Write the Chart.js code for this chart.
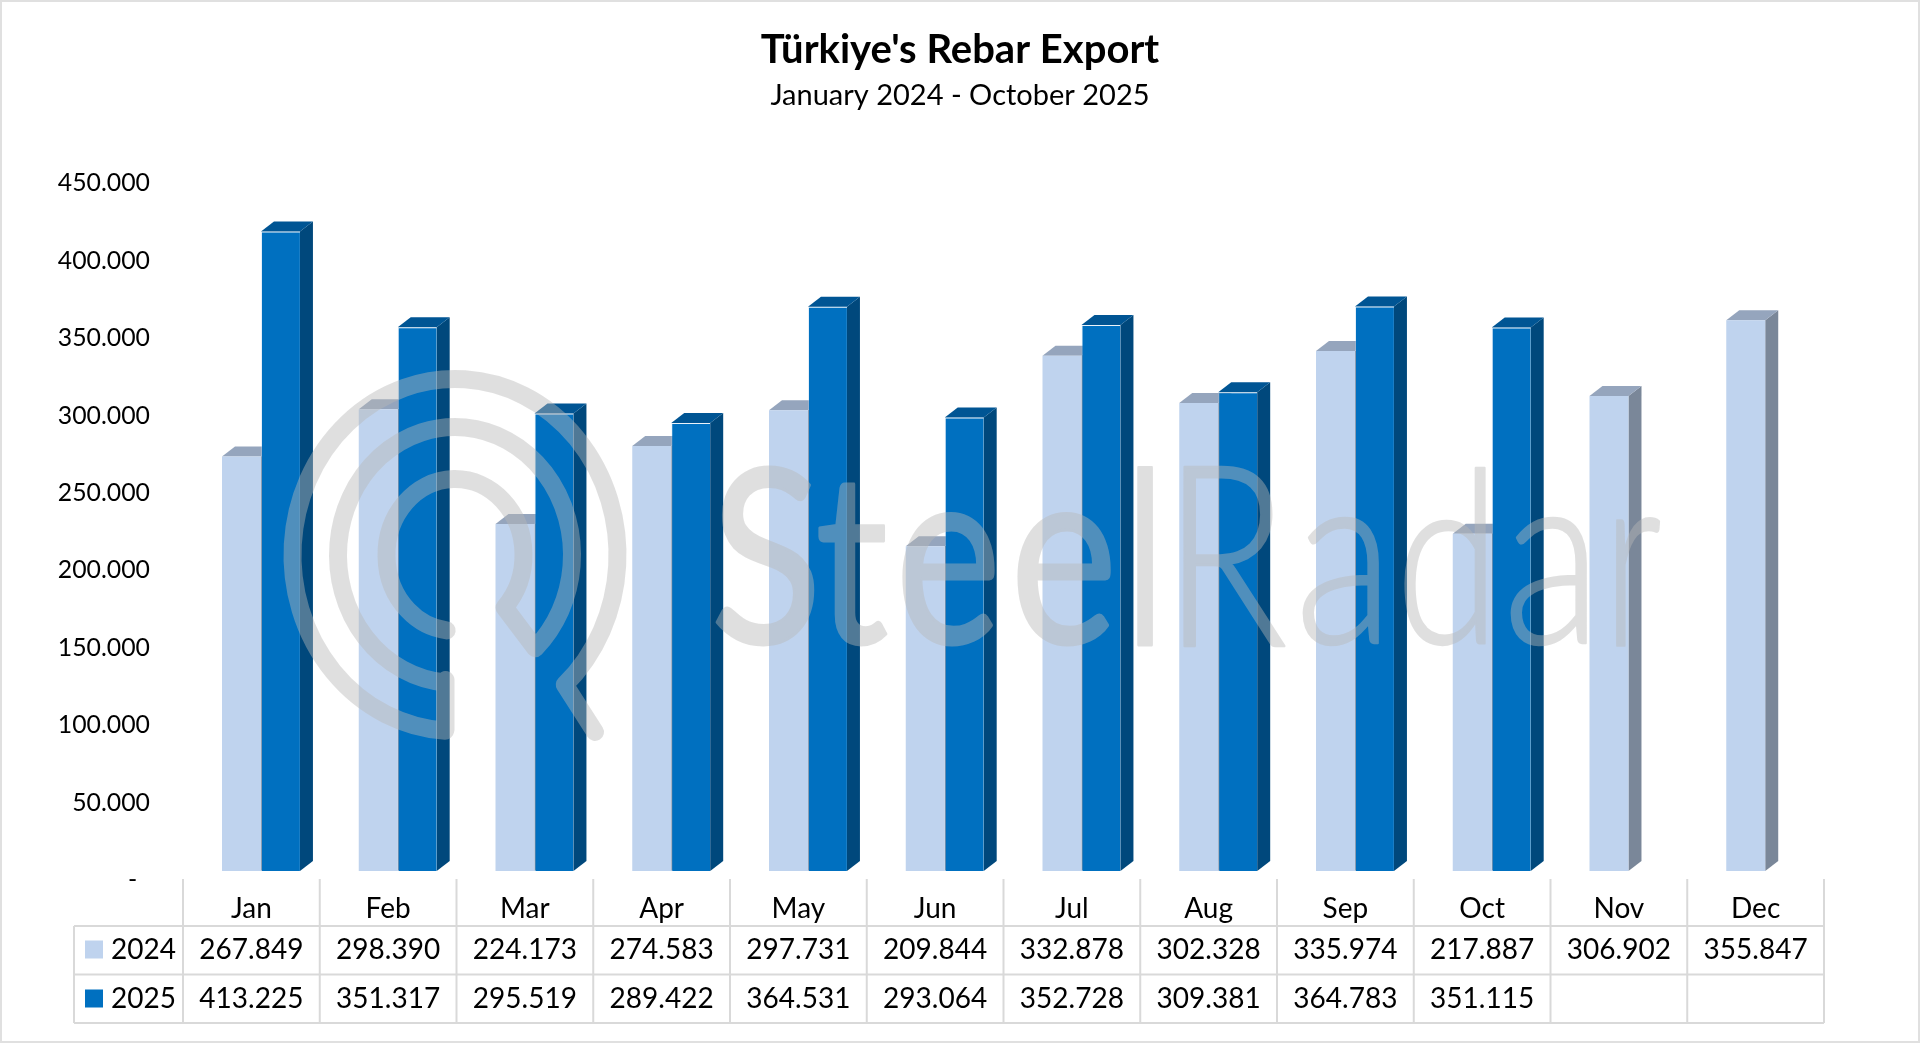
<!DOCTYPE html>
<html>
<head>
<meta charset="utf-8">
<title>Türkiye's Rebar Export</title>
<script src="https://cdn.jsdelivr.net/npm/chart.js@4"></script>
<style>
  html, body { margin: 0; padding: 0; background: #fff; overflow: hidden; }
  canvas { display: block; }
</style>
</head>
<body>
<canvas id="graph" width="1920" height="1043"></canvas>
<script>
const months = ['Jan', 'Feb', 'Mar', 'Apr', 'May', 'Jun', 'Jul', 'Aug', 'Sep', 'Oct', 'Nov', 'Dec'];
const values2024 = [267849, 298390, 224173, 274583, 297731, 209844, 332878, 302328, 335974, 217887, 306902, 355847];
const values2025 = [413225, 351317, 295519, 289422, 364531, 293064, 352728, 309381, 364783, 351115, null, null];
const seriesNames = ['2024', '2025'];

const FONT = 'Lato, Carlito, sans-serif';
const DEPTH_X = 13;
const DEPTH_Y = 10;
const TABLE_SHIFT = 9.6; // the data table sits a bit left of the bars, like in excel 3d charts

const faceColors = [
  { top: '#95A5BD', side: '#7A8799' },
  { top: '#005594', side: '#00487C' }
];
const swatchColors = ['#BFD3EE', '#0070C0'];

function formatNumber(v) {
  return v.toLocaleString('de-DE');
}

function polygon(c, pts, color) {
  c.fillStyle = color;
  c.beginPath();
  pts.forEach((p, i) => i ? c.lineTo(p[0], p[1]) : c.moveTo(p[0], p[1]));
  c.closePath();
  c.fill();
}

// white page and thin grey frame
const framePlugin = {
  id: 'frame',
  beforeDraw(chart) {
    const c = chart.ctx;
    c.save();
    c.fillStyle = '#fff';
    c.fillRect(0, 0, chart.width, chart.height);
    c.strokeStyle = '#E0E0E0';
    c.lineWidth = 2;
    c.strokeRect(1, 1, chart.width - 2, chart.height - 2);
    c.restore();
  }
};

// top and side faces of the bars, under the flat fronts
const depthPlugin = {
  id: 'depth',
  beforeDatasetsDraw(chart) {
    const c = chart.ctx;
    c.save();
    chart.data.datasets.forEach((ds, i) => {
      chart.getDatasetMeta(i).data.forEach((bar, idx) => {
        if (ds.data[idx] === null) return;
        const { x, y, base, width } = bar.getProps(['x', 'y', 'base', 'width'], true);
        const l = x - width / 2;
        const r = x + width / 2;
        polygon(c, [[r, y], [r + DEPTH_X, y - DEPTH_Y], [r + DEPTH_X, base - DEPTH_Y], [r, base]], faceColors[i].side);
        polygon(c, [[l, y], [l + DEPTH_X, y - DEPTH_Y], [r + DEPTH_X, y - DEPTH_Y], [r, y]], faceColors[i].top);
      });
    });
    c.restore();
  }
};

// SteelRadar mark over the bars
const watermarkPlugin = {
  id: 'watermark',
  afterDatasetsDraw(chart) {
    const c = chart.ctx;
    const cx = 455, cy = 555;
    const off = document.createElement('canvas');
    off.width = chart.width;
    off.height = chart.height;
    const o = off.getContext('2d');
    o.strokeStyle = '#B8B8B8';
    o.fillStyle = '#B8B8B8';
    o.lineWidth = 18;
    o.lineCap = 'round';
    o.lineJoin = 'round';
    const rad = Math.PI / 180;
    o.beginPath();
    o.ellipse(cx, cy, 162.5, 176, 0, 93.5 * rad, 407.5 * rad);
    o.lineTo(595, 732);
    o.moveTo(445.5, 680);
    o.lineTo(445.5, 730);
    o.moveTo(445.5, 680);
    o.ellipse(cx, cy, 117, 128, 0, 95 * rad, 406.7 * rad);
    o.lineTo(505, 608);
    o.ellipse(cx, cy, 68.5, 76, 0, 43.7 * rad, -263 * rad, true);
    o.stroke();

    // letters: char, left, right, top, bottom, heavy
    const letters = [
      ['S', 715, 815, 463, 648, true], ['t', 817, 890, 482, 648, true], ['e', 900, 997, 511, 648, true],
      ['e', 1015, 1113, 511, 648, true], ['l', 1135, 1155, 463, 646, true],
      ['R', 1181, 1286, 463, 647, false], ['a', 1300, 1382, 514, 648, false], ['d', 1403, 1489, 465, 648, false],
      ['a', 1508, 1590, 514, 648, false], ['r', 1615, 1661, 514, 646, false]
    ];
    o.textBaseline = 'alphabetic';
    o.textAlign = 'left';
    letters.forEach(([ch, l, r, top, bottom, heavy]) => {
      o.font = (heavy ? '400' : '300') + ' 257px ' + FONT;
      o.lineWidth = heavy ? 3 : 2.5;
      const inset = o.lineWidth / 2;
      const m = o.measureText(ch);
      const sx = (r - l - 2 * inset) / (m.actualBoundingBoxRight + m.actualBoundingBoxLeft);
      const sy = (bottom - top - 2 * inset) / (m.actualBoundingBoxAscent + m.actualBoundingBoxDescent);
      o.save();
      o.translate(l + inset + m.actualBoundingBoxLeft * sx, bottom - inset - m.actualBoundingBoxDescent * sy);
      o.scale(sx, sy);
      o.fillText(ch, 0, 0);
      o.strokeText(ch, 0, 0);
      o.restore();
    });
    c.save();
    c.globalAlpha = 0.435;
    c.drawImage(off, 0, 0);
    c.restore();
  }
};

// data table under the plot, columns follow the category scale
const tablePlugin = {
  id: 'dataTable',
  afterDraw(chart) {
    const c = chart.ctx;
    const xs = chart.scales.x;
    const colW = xs.getPixelForValue(1) - xs.getPixelForValue(0);
    const left = 74;
    const y0 = 879, y1 = 926, y2 = 974.5, y3 = 1023;
    const colX = (i) => xs.getPixelForValue(i) - TABLE_SHIFT - colW / 2;

    c.save();
    c.strokeStyle = '#D9D9D9';
    c.lineWidth = 2;
    c.beginPath();
    for (let i = 0; i <= months.length; i++) {
      c.moveTo(colX(i), y0);
      c.lineTo(colX(i), y3);
    }
    [y1, y2, y3].forEach((y) => {
      c.moveTo(left, y);
      c.lineTo(colX(months.length), y);
    });
    c.moveTo(left, y1);
    c.lineTo(left, y3);
    c.stroke();

    c.fillStyle = '#000';
    c.font = '28px ' + FONT;
    c.textBaseline = 'middle';
    [values2024, values2025].forEach((vals, s) => {
      const y = s === 0 ? 949.5 : 998.5;
      c.fillStyle = swatchColors[s];
      c.fillRect(85, y - 9, 18, 18);
      c.fillStyle = '#000';
      c.textAlign = 'left';
      c.fillText(seriesNames[s], 111, y);
      c.textAlign = 'center';
      vals.forEach((v, i) => {
        if (v !== null) c.fillText(formatNumber(v), colX(i) + colW / 2, y);
      });
    });
    c.restore();
  }
};

const ctx = document.getElementById('graph');

new Chart(ctx, {
  type: 'bar',
  data: {
    labels: months,
    datasets: [{
      label: seriesNames[0],
      data: values2024,
      backgroundColor: swatchColors[0]
    }, {
      label: seriesNames[1],
      data: values2025,
      backgroundColor: swatchColors[1],
      borderColor: 'rgba(190,215,240,0.3)',
      borderWidth: { left: 1, top: 1 }
    }]
  },
  plugins: [framePlugin, depthPlugin, watermarkPlugin, tablePlugin],
  options: {
    responsive: false,
    animation: false,
    categoryPercentage: 0.57,
    barPercentage: 1,
    layout: { padding: 0 },
    plugins: {
      legend: { display: false },
      tooltip: { enabled: false },
      title: {
        display: true,
        text: "Türkiye's Rebar Export",
        color: '#000',
        font: { family: FONT, size: 40, weight: 'bold' },
        padding: { top: 26.5, bottom: 3.5 }
      },
      subtitle: {
        display: true,
        text: 'January 2024 - October 2025',
        color: '#000',
        font: { family: FONT, size: 29, weight: 'normal' },
        padding: { top: 0, bottom: 61.7 }
      }
    },
    scales: {
      x: {
        grid: { display: false },
        border: { display: false },
        afterFit(scale) { scale.height = 172; },
        ticks: {
          color: '#000',
          font: { family: FONT, size: 28 },
          padding: 13,
          labelOffset: -TABLE_SHIFT,
          autoSkip: false,
          maxRotation: 0
        }
      },
      y: {
        min: 0,
        max: 450000,
        grid: { display: false, drawTicks: false },
        border: { display: false },
        afterFit(scale) { scale.width = 192.6; },
        ticks: {
          stepSize: 50000,
          color: '#000',
          font: { family: FONT, size: 24.8 },
          padding: 42.6,
          labelOffset: 9,
          callback: (v) => v === 0 ? '-  ' : formatNumber(v)
        }
      },
      // empty axis, only keeps the plot off the right edge
      yRight: {
        position: 'right',
        grid: { display: false, drawTicks: false },
        border: { display: false },
        ticks: { display: false },
        afterFit(scale) { scale.width = 86.4; }
      }
    }
  }
});
</script>
</body>
</html>
